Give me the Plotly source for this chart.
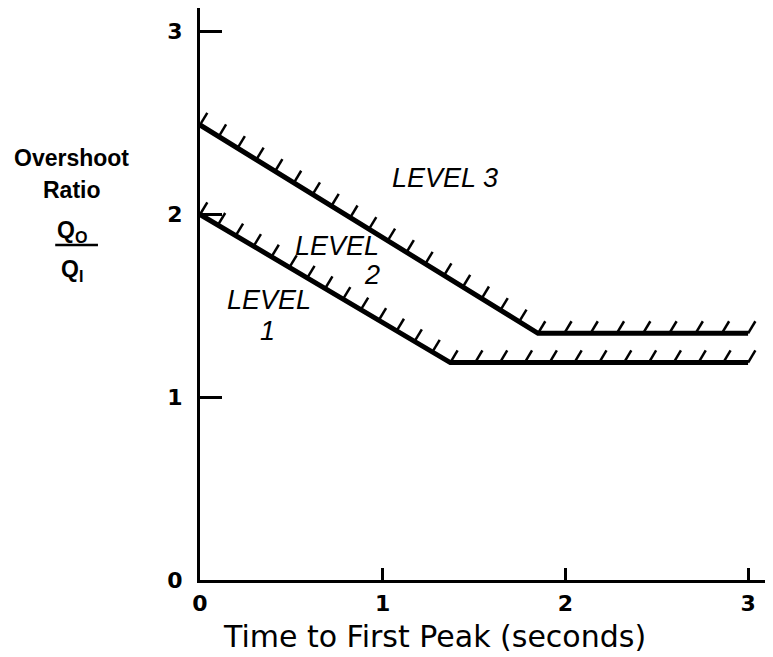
import plotly.graph_objects as go

# Boundary lines (Time to first peak [s], overshoot ratio)
lower_x = [0.0, 1.37, 3.0]
lower_y = [2.0, 1.19, 1.19]
upper_x = [0.0, 1.85, 3.0]
upper_y = [2.49, 1.35, 1.35]

x_ticks = [0, 1, 2, 3]
y_ticks = [0, 1, 2, 3]

labels = [("LEVEL 3", 1.34, 2.20), ("LEVEL", 0.75, 1.83), ("2", 0.94, 1.67),
          ("LEVEL", 0.38, 1.53), ("1", 0.37, 1.36)]

HATCH_DX, HATCH_DY = 0.04, 0.066


def hatches(xs, ys, slope_step, flat_step):
    hx, hy = [], []
    for i in range(len(xs) - 1):
        x0, x1, y0, y1 = xs[i], xs[i + 1], ys[i], ys[i + 1]
        step = flat_step if y0 == y1 else slope_step
        n = int(round((x1 - x0) / step))
        start = 0 if i == 0 else 1
        for k in range(start, n + 1):
            t = k / n
            px = x0 + t * (x1 - x0)
            py = y0 + t * (y1 - y0)
            hx += [px, px + HATCH_DX, None]
            hy += [py, py + HATCH_DY, None]
    return hx, hy


fig = go.Figure()
for xs, ys, ss in [(lower_x, lower_y, 0.098), (upper_x, upper_y, 0.105)]:
    hx, hy = hatches(xs, ys, ss, 0.138)
    fig.add_trace(go.Scatter(x=hx, y=hy, mode="lines",
                             line=dict(color="black", width=2.5),
                             hoverinfo="skip", showlegend=False))
    fig.add_trace(go.Scatter(x=xs, y=ys, mode="lines",
                             line=dict(color="black", width=5),
                             showlegend=False))

for txt, x, y in labels:
    fig.add_annotation(x=x, y=y, text=f"<i>{txt}</i>", showarrow=False,
                       xanchor="center", yanchor="middle",
                       font=dict(family="Liberation Sans", size=27, color="black"))

# y-axis title block
font_b = dict(family="Liberation Sans", size=23, color="black")
xc = -0.2246
for txt, y in [("<b>Overshoot</b>", 0.738), ("<b>Ratio</b>", 0.682),
               ("<b>Q<sub>O</sub></b>", 0.610), ("<b>Q<sub>I</sub></b>", 0.541)]:
    fig.add_annotation(xref="paper", yref="paper", x=xc, y=y, text=txt,
                       showarrow=False, xanchor="center", yanchor="middle", font=font_b)
fig.add_shape(type="line", xref="paper", yref="paper", x0=-0.254, x1=-0.179,
              y0=0.5857, y1=0.5857, line=dict(color="black", width=2.5))

# x-axis title
fig.add_annotation(xref="paper", yref="paper", x=0.412, y=-0.098,
                   text="Time to First Peak (seconds)", showarrow=False,
                   xanchor="center", yanchor="middle",
                   font=dict(family="DejaVu Sans", size=30, color="black"))

tickfont = dict(family="DejaVu Sans", size=22, color="black", weight="bold")
fig.update_layout(
    width=765, height=649, margin=dict(l=192, r=3, t=0, b=77),
    plot_bgcolor="white", paper_bgcolor="white", showlegend=False,
    xaxis=dict(range=[0, 3.12], tickvals=x_ticks, ticktext=[str(v) for v in x_ticks],
               ticks="inside", ticklen=12, tickwidth=2.5, tickcolor="black",
               ticklabelstandoff=2,
               showline=True, linewidth=3, linecolor="black", showgrid=False,
               zeroline=False, tickfont=tickfont),
    yaxis=dict(range=[0, 3.13], tickvals=y_ticks, ticktext=[str(v) for v in y_ticks],
               ticks="inside", ticklen=22, tickwidth=3, tickcolor="black",
               ticklabelstandoff=10,
               showline=True, linewidth=3, linecolor="black", showgrid=False,
               zeroline=False, tickfont=tickfont),
)
fig.write_html("out.html")
